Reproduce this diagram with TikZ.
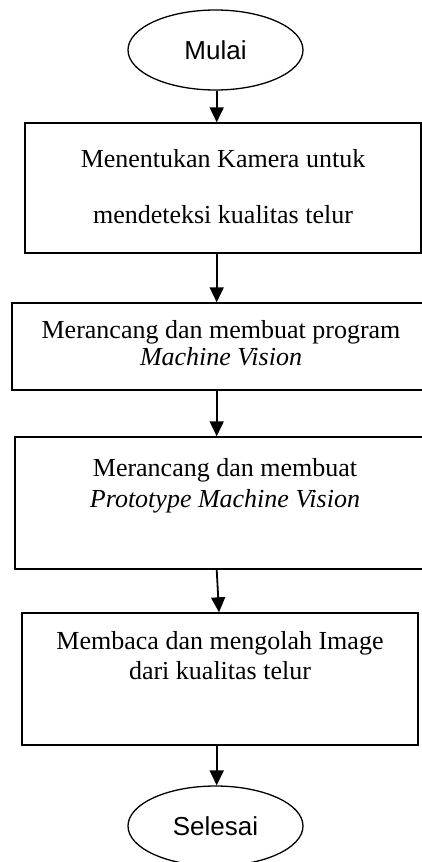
\documentclass[tikz,border=0pt]{standalone}
\usepackage{fontspec}
\setmainfont{Liberation Serif}
\newfontfamily\arialf{Liberation Sans}
\usetikzlibrary{shapes.geometric,arrows.meta,calc}
\begin{document}
\begin{tikzpicture}[x=1pt,y=-1pt,
  boxnode/.style={draw,line width=1.4pt,rectangle,inner sep=0pt},
  ovalnode/.style={draw,line width=1.3pt,ellipse,inner sep=0pt,minimum width=175pt,minimum height=80pt,
    font=\arialf\fontsize{26}{30}\selectfont},
  boxtext/.style={align=center,inner sep=0pt},
  arr/.style={line width=1.8pt,-{Triangle[length=15pt,width=14pt]}}]
\useasboundingbox (0,0) rectangle (422,862);

% terminals
\node[ovalnode] (m) at (215.5,50) {Mulai};
\node[ovalnode] (s) at (215.5,826) {Selesai};

% process boxes
\node[boxnode,minimum width=396pt,minimum height=130pt] (b1) at (223,188) {};
\node[boxnode,minimum width=412pt,minimum height=87pt] (b2) at (218,346.5) {};
\node[boxnode,minimum width=409pt,minimum height=132pt] (b3) at (219.5,503) {};
\node[boxnode,minimum width=396pt,minimum height=132pt] (b4) at (220,679) {};

% texts
\node[boxtext,font=\fontsize{26}{56}\selectfont] (t1) at (223,187)
  {Menentukan Kamera untuk\\mendeteksi kualitas telur};
\node[boxtext,font=\fontsize{26}{27}\selectfont] (t2) at (221,343)
  {Merancang dan membuat program\\\textit{Machine Vision}};
\node[boxtext,font=\fontsize{26}{31}\selectfont] (t3) at (225,486)
  {Merancang dan membuat\\\textit{Prototype Machine Vision}};
\node[boxtext,font=\fontsize{26}{30}\selectfont] (t4) at (220,656)
  {Membaca dan mengolah Image\\dari kualitas telur};

% connectors
\draw[arr] ($(m.south)+(1.2,0)$) -- ($(m.south |- b1.north)+(1.2,0)$);
\draw[arr] ($(m |- b1.south)+(1.2,0)$) -- ($(m |- b2.north)+(1.2,0)$);
\draw[arr] ($(m |- b2.south)+(1.2,0)$) -- ($(m |- b3.north)+(1.2,0)$);
\draw[arr] ($(m |- b3.south)+(1.2,0)$) -- ($(m |- b4.north)+(3.5,0)$);
\draw[arr] ($(m |- b4.south)+(1.2,0)$) -- ($(s.north)+(1.2,0)$);
\end{tikzpicture}
\end{document}
